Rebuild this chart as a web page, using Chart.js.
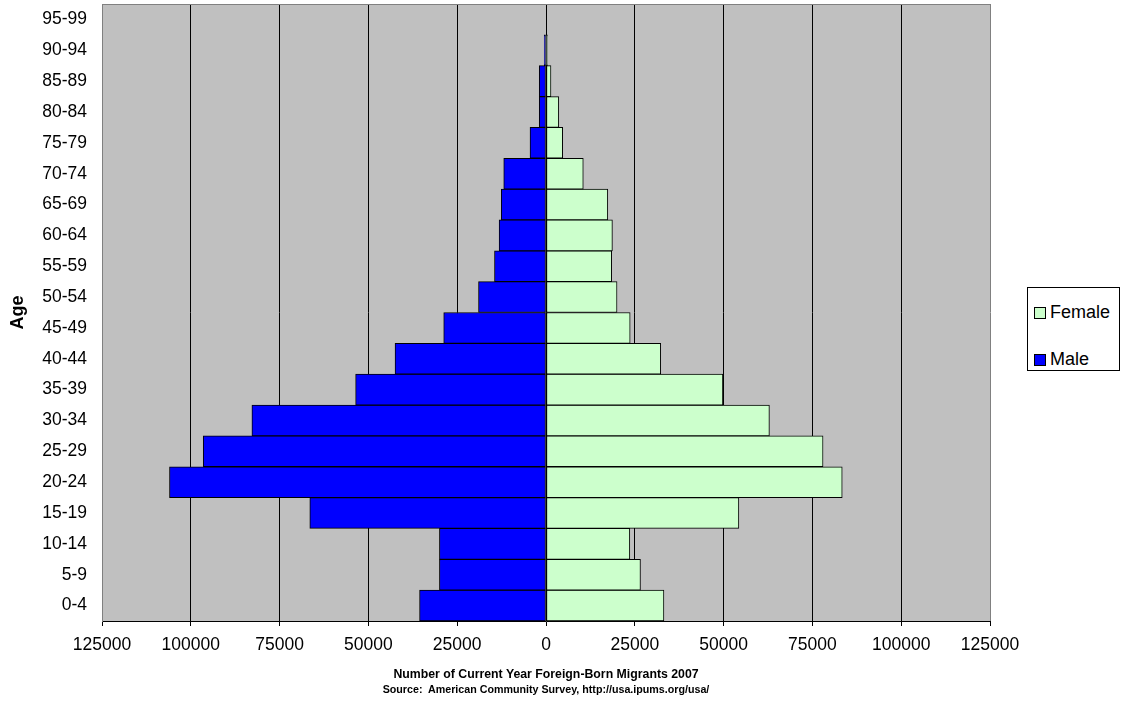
<!DOCTYPE html>
<html lang="en">
<head>
  <meta charset="UTF-8">
  <title>Foreign-Born Migrants 2007 by Age</title>
  <script src="https://cdn.jsdelivr.net/npm/chart.js"></script>
  <style>
    body { margin: 0; background: #fff; font-family: "Liberation Sans", Arial, sans-serif; }
    #wrap { position: relative; width: 1122px; height: 703px; }
    #wrap canvas { position: absolute; left: 0; top: 0; }
    .legend { position: absolute; left: 1027px; top: 287px; width: 91px; height: 82px;
              border: 1px solid #000; background: #fff; font-size: 18px; }
    .legend div { position: absolute; left: 6px; height: 20px; line-height: 20px; }
    .legend span { display: inline-block; width: 10px; height: 10px; border: 1px solid #000;
                   margin-right: 4px; vertical-align: -1px; }
    .xtitle { position: absolute; left: 246px; width: 600px; text-align: center; font-weight: bold; color: #000; }
  </style>
</head>
<body>
<div id="wrap">
  <canvas id="pyramid" width="1122" height="703"></canvas>
  <div class="legend">
    <div style="top:14px"><span id="swF"></span>Female</div>
    <div style="top:61px"><span id="swM"></span>Male</div>
  </div>
  <div class="xtitle" style="top:667px; font-size:12.3px;">Number of Current Year Foreign-Born Migrants 2007</div>
  <div class="xtitle" style="top:683px; font-size:10.7px;">Source:&nbsp; American Community Survey, http://usa.ipums.org/usa/</div>
</div>
<script>
  // age groups, bottom to top
  const ageGroups = ['0-4', '5-9', '10-14', '15-19', '20-24', '25-29', '30-34', '35-39', '40-44', '45-49',
                     '50-54', '55-59', '60-64', '65-69', '70-74', '75-79', '80-84', '85-89', '90-94', '95-99'];
  const male   = [35600, 30000, 30000, 66500, 106000, 96500, 82800, 53600, 42500, 28800,
                  19000, 14500, 13200, 12600, 11900, 4500, 1900, 1900, 500, 0];
  const female = [33200, 26600, 23600, 54300, 83400, 78000, 62900, 49800, 32300, 23700,
                  20000, 18500, 18700, 17400, 10500, 4700, 3600, 1400, 400, 0];
  const xTicks = [-125000, -100000, -75000, -50000, -25000, 0, 25000, 50000, 75000, 100000, 125000];

  const maleColor = '#0000FF', femaleColor = '#CCFFCC';
  document.getElementById('swM').style.background = maleColor;
  document.getElementById('swF').style.background = femaleColor;

  const fontFam = '"Liberation Sans", Arial, sans-serif';

  const plotBg = {
    id: 'plotBg',
    beforeDraw(chart) {
      const a = chart.chartArea, c = chart.ctx;
      c.save();
      c.fillStyle = '#C0C0C0';
      c.fillRect(a.left, a.top, a.right - a.left, a.bottom - a.top);
      c.restore();
    },
    beforeDatasetsDraw(chart) {
      const a = chart.chartArea, c = chart.ctx;
      c.save();
      c.strokeStyle = '#808080';
      c.lineWidth = 1;
      c.beginPath();
      c.moveTo(a.left, a.top + 0.5);
      c.lineTo(a.right, a.top + 0.5);
      c.stroke();
      c.restore();
    }
  };

  const chart = new Chart(document.getElementById('pyramid'), {
    type: 'bar',
    data: {
      labels: ageGroups,
      datasets: [
        { label: 'Female', data: female, backgroundColor: femaleColor, borderColor: '#000',
          borderWidth: 1, borderSkipped: false },
        { label: 'Male', data: male.map(v => -v), backgroundColor: maleColor, borderColor: '#000',
          borderWidth: 1, borderSkipped: false }
      ]
    },
    options: {
      indexAxis: 'y',
      responsive: false,
      animation: false,
      barPercentage: 1,
      categoryPercentage: 1,
      layout: { padding: { top: 4, right: 132, bottom: 0, left: 0 } },
      plugins: { legend: { display: false }, tooltip: { enabled: false } },
      scales: {
        x: {
          stacked: true,
          min: -125000, max: 125000,
          afterBuildTicks: s => { s.ticks = xTicks.map(v => ({ value: v })); },
          afterFit: s => { s.height = 82; s.paddingLeft = 0; s.paddingRight = 0; },
          ticks: { color: '#000', padding: 9, font: { family: fontFam, size: 17.5 },
                   maxRotation: 0, callback: v => String(Math.abs(v)) },
          grid: { color: ctx => Math.abs(ctx.tick.value) === 125000 ? '#808080' : '#000',
                  tickColor: '#000', tickLength: 5, lineWidth: 1 },
          border: { color: '#000' }
        },
        y: {
          stacked: true,
          reverse: true,
          afterFit: s => { s.width = 102; s.paddingTop = 0; s.paddingBottom = 0; },
          ticks: { color: '#000', padding: 15, font: { family: fontFam, size: 17.5 } },
          grid: { display: false, drawTicks: false },
          border: { color: '#808080' },
          title: { display: true, text: 'Age', color: '#000', padding: { top: 7, bottom: 0 },
                   font: { family: fontFam, size: 18, weight: 'bold' } }
        }
      }
    },
    plugins: [plotBg]
  });
</script>
</body>
</html>
